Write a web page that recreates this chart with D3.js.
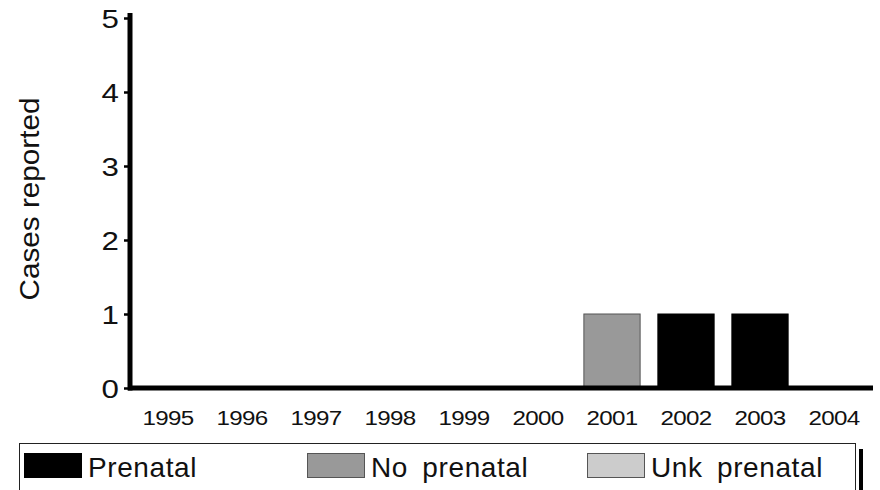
<!DOCTYPE html>
<html><head><meta charset="utf-8">
<script src="https://cdn.jsdelivr.net/npm/d3@7"></script>
<style>body{margin:0;background:#fff}svg{display:block;font-family:"Liberation Sans",Arial,sans-serif}</style>
</head><body>
<svg id="c" width="880" height="490"></svg>
<script>
const years = ["1995","1996","1997","1998","1999","2000","2001","2002","2003","2004"];
const prenatal   = [0,0,0,0,0,0,0,1,1,0];
const noPrenatal = [0,0,0,0,0,0,1,0,0,0];
const unkPrenatal= [0,0,0,0,0,0,0,0,0,0];
const seriesNames = ["Prenatal","No prenatal","Unk prenatal"];
const seriesColors = ["#000000","#999999","#cccccc"];
const yTicks = [0,1,2,3,4,5];

const svg = d3.select("#c");
const x = d3.scaleBand().domain(years).range([131,871]).paddingInner(0.24).paddingOuter(0.12);
const y = d3.scaleLinear().domain([0,5]).range([388,18]);

const table = years.map((yr,i)=>({year:yr,"Prenatal":prenatal[i],"No prenatal":noPrenatal[i],"Unk prenatal":unkPrenatal[i]}));
const stack = d3.stack().keys(seriesNames)(table);

stack.forEach((s,si)=>{
  svg.append("g").selectAll("rect").data(s.filter(d=>d[1]-d[0]>0)).join("rect")
    .attr("x",d=>x(d.data.year)).attr("width",x.bandwidth())
    .attr("y",d=>y(d[1])).attr("height",d=>y(d[0])-y(d[1]))
    .attr("fill",seriesColors[si]).attr("stroke",si===0?"#000":"#555").attr("stroke-width",1);
});

// Y axis
const ya = svg.append("g").attr("transform","translate(130,0)")
  .call(d3.axisLeft(y).tickValues(yTicks).tickSize(6).tickPadding(3).tickFormat(d3.format("d")));
ya.select(".domain").remove();
ya.selectAll(".tick line").attr("stroke","#000").attr("stroke-width",2.5);
ya.selectAll(".tick text").attr("x",0).attr("dy",0).attr("y",0)
  .attr("transform","translate(-11,9) scale(1.25,1)")
  .attr("font-size",25).attr("fill","#111")
  .attr("font-family","Liberation Sans, Arial, sans-serif");
svg.append("line").attr("x1",130).attr("x2",130).attr("y1",y(5)-5).attr("y2",y(0)+2.5)
  .attr("stroke","#000").attr("stroke-width",5);

// X axis
const xa = svg.append("g").attr("transform","translate(0,388)")
  .call(d3.axisBottom(x).tickSize(0));
xa.select(".domain").remove();
xa.selectAll(".tick text").attr("y",0).attr("dy",0).attr("transform","translate(0,37) scale(1.15,1)")
  .attr("font-size",21).attr("fill","#111").attr("letter-spacing","-0.6")
  .attr("font-family","Liberation Sans, Arial, sans-serif");
svg.append("line").attr("x1",128).attr("x2",873).attr("y1",388).attr("y2",388)
  .attr("stroke","#000").attr("stroke-width",5);

// Y title
svg.append("text").attr("transform","translate(39,199) rotate(-90) scale(1.1,1)").attr("text-anchor","middle")
  .attr("font-size",27).attr("fill","#111").text("Cases reported");

// Legend
const lg = svg.append("g");
lg.append("rect").attr("x",859).attr("y",449).attr("width",4).attr("height",50).attr("fill","#000");
lg.append("rect").attr("x",19.5).attr("y",443.5).attr("width",836).attr("height",60).attr("fill","#fff").attr("stroke","#222").attr("stroke-width",1);
const lx = [24,307,587];
seriesNames.forEach((n,i)=>{
  lg.append("rect").attr("x",lx[i]+0.5).attr("y",453.5).attr("width",57).attr("height",24)
    .attr("fill",seriesColors[i]).attr("stroke",i===0?"#000":"#555");
  lg.append("text").attr("x",lx[i]+64).attr("y",477).attr("font-size",28).attr("letter-spacing","0.6")
    .attr("word-spacing","6").attr("fill","#111").text(n);
});
</script>
</body></html>
